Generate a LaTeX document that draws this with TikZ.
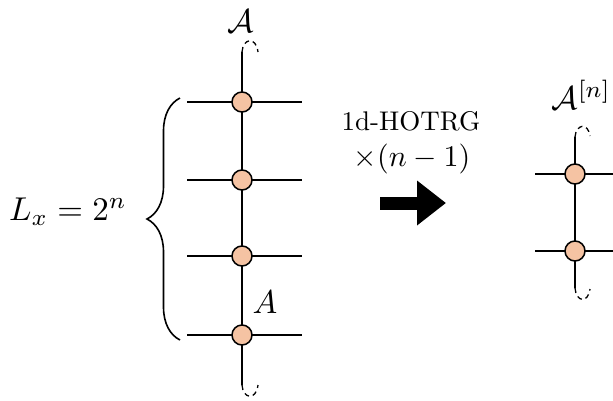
\documentclass[tikz,border=0pt]{standalone}
\usepackage{amsmath}
\usetikzlibrary{decorations.pathreplacing,arrows.meta}
\definecolor{peach}{HTML}{F5C3A3}
\begin{document}
\begin{tikzpicture}[x=1pt,y=-1pt,
  site/.style={circle,draw=black,line width=1.5pt,fill=peach,minimum size=20pt,inner sep=0pt},
  leg/.style={line width=1.6pt},
  pbc/.style={line width=1.3pt,dash pattern=on 5pt off 4pt},
  big/.style={scale=3.3,inner sep=0pt},
  mid/.style={scale=2.7,inner sep=0pt},
  midm/.style={scale=3.0,inner sep=0pt}]
\useasboundingbox (0,0) rectangle (613,400);
% left column
\foreach \i/\y in {1/102,2/180,3/256,4/335}{
  \coordinate (l\i) at (187,\y);
  \coordinate (r\i) at (302,\y);
}
\coordinate (ltop) at (242,52);
\coordinate (lbot) at (242,385);
\draw[leg] (ltop) -- (lbot);
\foreach \i in {1,2,3,4}{\draw[leg] (l\i) -- (r\i);}
\foreach \i/\y in {1/102,2/180,3/256,4/335}{\node[site] (s\i) at (242,\y) {};}
\draw[pbc] (ltop) .. controls (243,38) and (256,36) .. (258,52);
\draw[pbc] (lbot) .. controls (243,399) and (256,401) .. (258,385);
\node[big] (calA) at (241,21) {$\mathcal{A}$};
\node[big] (Alab) at (265,302) {$A$};
% brace
\draw[line width=1.6pt,decorate,decoration={brace,amplitude=33pt}] (180,340) -- (180,98);
\node[big] (Lx) at (68,212) {$L_x = 2^n$};
% arrow and text
\node[mid] (t1) at (411,121) {1d-HOTRG};
\node[midm] (t2) at (412,159) {$\times(n-1)$};
\coordinate (a0) at (380,203);
\coordinate (a1) at (446,203);
\draw[line width=13pt,-{Triangle[length=29pt,width=43pt]}] (a0) -- (a1);
% right column
\coordinate (rtop) at (575,137);
\coordinate (rbot) at (575,288);
\draw[leg] (rtop) -- (rbot);
\foreach \i/\y in {1/174,2/251}{
  \coordinate (rl\i) at (535,\y);
  \coordinate (rr\i) at (613,\y);
  \draw[leg] (rl\i) -- (rr\i);
  \node[site] (rs\i) at (575,\y) {};
}
\draw[pbc] (rtop) .. controls (576,124) and (588,122) .. (590,136);
\draw[pbc] (rbot) .. controls (576,302) and (588,304) .. (590,289);
\node[big,anchor=west] (calAn) at (551,95) {$\mathcal{A}^{[n]}$};
\end{tikzpicture}
\end{document}
